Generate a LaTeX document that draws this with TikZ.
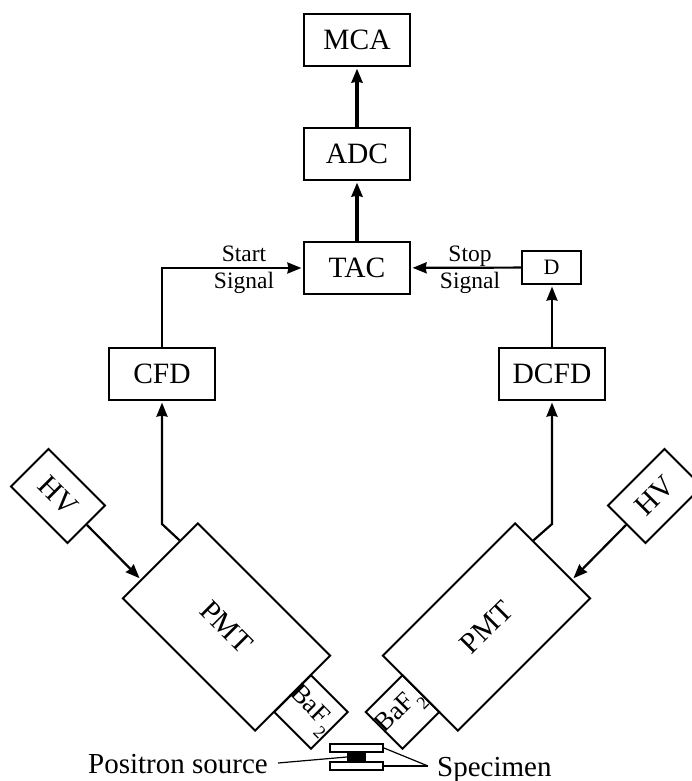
\documentclass[tikz,border=0pt]{standalone}
\usepackage{fontspec}
\setmainfont{Liberation Serif}
\usepackage{tikz}
\usetikzlibrary{arrows.meta,positioning,calc}
\tikzset{
  box/.style={rectangle, draw=black, line width=2.2pt, minimum width=106pt, minimum height=52pt,
    inner sep=0pt, font=\fontsize{29.5}{31}\selectfont},
  smallbox/.style={box, minimum width=59pt, minimum height=33pt, font=\fontsize{22}{24}\selectfont},
  pmtbox/.style={box, line width=2pt, minimum width=187pt, minimum height=106pt},
  hvbox/.style={box, line width=2pt, minimum width=80pt, minimum height=53pt},
  crystal/.style={box, line width=2pt, minimum width=52pt, minimum height=52pt, font=\fontsize{26.5}{28}\selectfont},
  plate/.style={rectangle, draw=black, line width=2pt, fill=white, minimum width=53pt, minimum height=8pt, inner sep=0pt},
  lab/.style={inner sep=0pt, font=\fontsize{23.5}{24}\selectfont},
  bigtext/.style={inner sep=0pt, font=\fontsize{29}{30}\selectfont},
  tr/.style={-{Stealth[length=14pt,width=11pt,inset=1pt]}, line width=2.2pt, draw=black, shorten >=1.5pt},
  trb/.style={tr, line width=3.4pt},
  wire/.style={line width=1.2pt, draw=black},
}
\newcommand{\baftwo}{\hspace*{-3pt}\raisebox{-3pt}[0pt][0pt]{BaF\raisebox{-0.42em}{\fontsize{18}{19}\selectfont 2}}}
\begin{document}
\begin{tikzpicture}[x=1pt,y=-1pt,node distance=59.8pt]
  \clip (0,0) rectangle (692,781);
  \node[box] (tac) at (357,268) {TAC};
  \node[box, above=of tac] (adc) {ADC};
  \node[box, above=of adc] (mca) {MCA};
  \node[smallbox] (d) at (551.5,267.5) {D};
  \node[box] (cfd) at (162,374) {CFD};
  \node[box] (dcfd) at (552,374) {DCFD};
  \node[pmtbox, rotate=-45] (pmtl) at (226.5,627) {PMT};
  \node[pmtbox, rotate=45] (pmtr) at (486.5,627) {PMT};
  \node[hvbox, rotate=-45] (hvl) at (58,496) {HV};
  \node[hvbox, rotate=45] (hvr) at (655,496) {HV};
  \node[crystal, rotate=-45] (bafl) at (311,712) {\baftwo};
  \node[crystal, rotate=45] (bafr) at (402.5,712) {\baftwo};
  \node[plate] (up) at (356.5,748) {};
  \node[plate] (lo) at (356.5,766) {};
  \node[rectangle, fill=black, minimum width=19pt, minimum height=10pt, inner sep=0pt] (src) at (356.5,757) {};
  \node[bigtext, anchor=base west] (srclbl) at (88,773) {Positron source};
  \node[bigtext, anchor=base west] (speclbl) at (437,776) {Specimen};
  \node[lab, anchor=base] (startlbl) at (244,261) {Start};
  \node[lab, anchor=base] (sig1) at (244,288) {Signal};
  \node[lab, anchor=base] (stoplbl) at (470,261) {Stop};
  \node[lab, anchor=base] (sig2) at (470,288) {Signal};
  \coordinate (hvlend) at ($(pmtl.north west)!0.75!(pmtl.south west)$);
  \coordinate (hvrend) at ($(pmtr.north east)!0.75!(pmtr.south east)$);
  \coordinate (cfdout) at ($(pmtl.north west)!0.24!(pmtl.south west)$);
  \coordinate (dcfdout) at ($(pmtr.north east)!0.24!(pmtr.south east)$);
  \coordinate (cfdknee) at (cfd.south |- 0,524);
  \coordinate (dcfdknee) at (dcfd.south |- 0,524);
  \coordinate (specjoin) at (428,766);
  \coordinate (srcend) at (278,763);
  \draw[trb] (tac) -- (adc);
  \draw[trb] (adc) -- (mca);
  \draw[tr] (cfd) |- (tac);
  \draw[tr] (d) -- (tac);
  \draw[tr] (dcfd.north) -- (dcfd.north |- d.south);
  \draw[tr] (cfdout) -- (cfdknee) -- (cfd.south);
  \draw[tr] (dcfdout) -- (dcfdknee) -- (dcfd.south);
  \draw[tr] (hvl.east) -- (hvlend);
  \draw[tr] (hvr.west) -- (hvrend);
  \draw[wire] (srcend) -- (src.west);
  \draw[wire] (specjoin) -- (up.east);
  \draw[wire] (specjoin) -- (lo.east);
\end{tikzpicture}
\end{document}
